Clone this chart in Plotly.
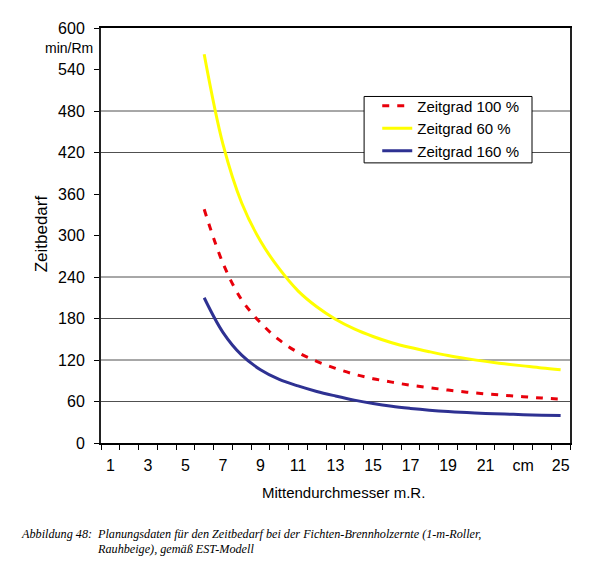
import plotly.graph_objects as go

# Mittendurchmesser in cm (category positions 1..25)
durchmesser = list(range(6, 26))

# Zeitbedarf (min/Rm)
zeitgrad_100 = [338, 260, 207, 174, 149, 131, 118, 108, 99.5, 93, 88, 83.5, 80, 76.5, 73.5, 71, 69, 67, 65, 63.5]
zeitgrad_60 = [562, 432, 347, 292, 252, 220, 197, 179, 165, 154, 145, 138, 132, 126.5, 122, 118, 114.5, 111.5, 108.5, 106]
zeitgrad_160 = [210, 160, 127, 106, 92, 82.5, 74.5, 68, 62, 57, 53, 50, 47.5, 45.5, 44, 42.8, 41.8, 41, 40.2, 39.6]

x_tickvals = list(range(1, 26, 2))
x_ticktext = ["1", "3", "5", "7", "9", "11", "13", "15", "17", "19", "21", "cm", "25"]
y_grid = [60, 120, 180, 240, 420, 480]

font = "Liberation Sans, Arial, sans-serif"
serif = "Liberation Serif, Times New Roman, serif"

fig = go.Figure()
fig.add_trace(go.Scatter(x=durchmesser, y=zeitgrad_100, mode="lines", name="Zeitgrad 100 %",
                         line=dict(color="#e8000b", width=3, dash="7px,8px", shape="spline")))
fig.add_trace(go.Scatter(x=durchmesser, y=zeitgrad_60, mode="lines", name="Zeitgrad 60 %",
                         line=dict(color="#ffff00", width=3, shape="spline")))
fig.add_trace(go.Scatter(x=durchmesser, y=zeitgrad_160, mode="lines", name="Zeitgrad 160 %",
                         line=dict(color="#2e3192", width=3, shape="spline")))

# horizontal grid lines (only some levels are drawn in the original)
for g in y_grid:
    fig.add_shape(type="line", xref="paper", yref="y", x0=0, x1=1, y0=g, y1=g,
                  line=dict(color="#505050", width=1), layer="below")

# legend frame
fig.add_shape(type="rect", xref="paper", yref="paper", x0=0.561, x1=0.919, y0=0.675, y1=0.835,
              fillcolor="white", line=dict(color="black", width=1), layer="above")

# page body has an 8px margin, so the figure is made 8px smaller
fig.update_layout(
    width=591, height=565,
    margin=dict(l=93, r=29, t=17, b=130),
    plot_bgcolor="white", paper_bgcolor="white",
    font=dict(family=font, size=16, color="black"),
    showlegend=True,
    legend=dict(x=0.589, y=0.852, xanchor="left", yanchor="top",
                bgcolor="rgba(0,0,0,0)", borderwidth=0,
                font=dict(size=15), tracegroupgap=0),
)
fig.update_xaxes(
    range=[0.5, 25.5], tickmode="array", tickvals=x_tickvals, ticktext=x_ticktext,
    ticks="", showgrid=False, zeroline=False, ticklabelstandoff=7,
    showline=True, linecolor="black", linewidth=2, mirror=True,
    minor=dict(tickmode="array", tickvals=[i + 0.5 for i in range(0, 26)],
               ticks="outside", ticklen=5, tickcolor="black", showgrid=False),
    tickfont=dict(size=16),
)
fig.update_yaxes(
    range=[0, 600], dtick=60, tick0=0, ticks="outside", ticklen=5, tickcolor="black",
    showgrid=False, zeroline=False, ticklabelstandoff=6,
    showline=True, linecolor="#222222", linewidth=2, mirror=True,
    tickfont=dict(size=16),
)

annotations = [
    dict(text="min/Rm", x=-0.012, y=0.952, xanchor="right", yanchor="middle", font=dict(size=14)),
    dict(text="Zeitbedarf", x=-0.126, y=0.505, textangle=-90, xanchor="center", yanchor="middle",
         font=dict(size=17)),
    dict(text="Mittendurchmesser m.R.", x=0.518, y=-0.120, xanchor="center", yanchor="middle",
         font=dict(size=15)),
    dict(text="<i>Abbildung 48:</i>", x=-0.175, y=-0.220, xanchor="left", yanchor="middle",
         font=dict(family=serif, size=12.2)),
    dict(text="<i>Planungsdaten für den Zeitbedarf bei der Fichten-Brennholzernte (1-m-Roller,</i>",
         x=-0.013, y=-0.220, xanchor="left", yanchor="middle", font=dict(family=serif, size=12.2)),
    dict(text="<i>Rauhbeige), gemäß EST-Modell</i>", x=-0.013, y=-0.256, xanchor="left", yanchor="middle",
         font=dict(family=serif, size=12.2)),
]
for a in annotations:
    fig.add_annotation(xref="paper", yref="paper", showarrow=False, **a)

fig.write_html("out.html")
